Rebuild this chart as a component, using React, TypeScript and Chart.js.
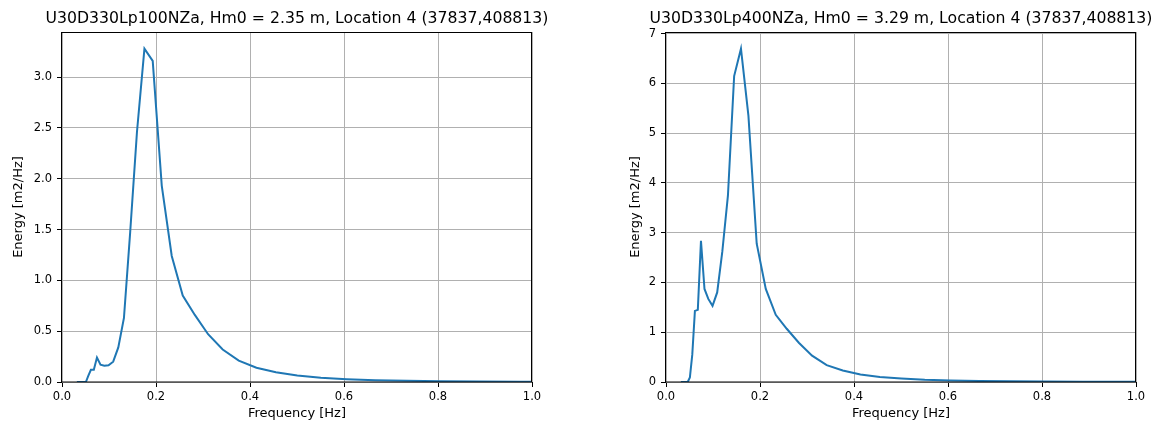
import React, { useEffect, useRef } from "react";
import { Chart, registerables } from "chart.js";

Chart.register(...registerables);

// ---- data ----
const frequencies = [
  0.0316, 0.0347, 0.0382, 0.042, 0.0462, 0.0508, 0.0559, 0.0615, 0.0677, 0.0744,
  0.0819, 0.09, 0.099, 0.1089, 0.1198, 0.1318, 0.145, 0.1595, 0.1754, 0.193,
  0.2123, 0.2335, 0.2569, 0.2826, 0.3108, 0.3419, 0.3761, 0.4137, 0.4551, 0.5006,
  0.5506, 0.6057, 0.6663, 0.7329, 0.8062, 0.8868, 0.9755, 1.0731,
];

const energyLp100 = [
  0, 0, 0, 0, 0, 0, 0.06, 0.12, 0.12, 0.24,
  0.17, 0.16, 0.165, 0.2, 0.34, 0.63, 1.47, 2.46, 3.28, 3.16,
  1.93, 1.24, 0.85, 0.66, 0.47, 0.32, 0.21, 0.14, 0.095, 0.065,
  0.042, 0.028, 0.018, 0.012, 0.008, 0.005, 0.003, 0.002,
];

const energyLp400 = [
  0, 0, 0, 0, 0, 0.09, 0.55, 1.43, 1.45, 2.84,
  1.87, 1.67, 1.53, 1.8, 2.62, 3.75, 6.15, 6.7, 5.35, 2.78,
  1.87, 1.35, 1.07, 0.79, 0.53, 0.34, 0.23, 0.15, 0.1, 0.07,
  0.045, 0.03, 0.02, 0.013, 0.008, 0.005, 0.003, 0.002,
];

const xTicks = [0, 0.2, 0.4, 0.6, 0.8, 1.0];
const yTicksLp100 = [0, 0.5, 1.0, 1.5, 2.0, 2.5, 3.0];
const yTicksLp400 = [0, 1, 2, 3, 4, 5, 6, 7];

const titleLp100 = "U30D330Lp100NZa, Hm0 = 2.35 m, Location 4 (37837,408813)";
const titleLp400 = "U30D330Lp400NZa, Hm0 = 3.29 m, Location 4 (37837,408813)";
const xLabel = "Frequency [Hz]";
const yLabel = "Energy [m2/Hz]";

const FONT = "'DejaVu Sans', 'Liberation Sans', sans-serif";

type PanelProps = {
  left: number;
  width: number;
  padLeft: number;
  padRight: number;
  yMax: number;
  yTicks: number[];
  yDecimals: number;
  yTitlePad: number;
  values: number[];
  title: string;
};

const framePlugin = {
  id: "frameAndTitle",
  afterDraw(chart: any, _args: any, opts: any) {
    const { ctx, chartArea } = chart;
    const { left, top, right, bottom } = chartArea;
    ctx.save();
    ctx.strokeStyle = "#000";
    ctx.lineWidth = 1;
    ctx.strokeRect(Math.round(left) - 0.5, Math.round(top) + 0.5, Math.round(right - left), Math.round(bottom - top) - 0.5);
    ctx.fillStyle = "#000";
    ctx.font = `15.7px ${FONT}`;
    ctx.textAlign = "center";
    ctx.textBaseline = "alphabetic";
    ctx.fillText(opts.text, (left + right) / 2, 23);
    ctx.restore();
  },
};

function Panel(p: PanelProps) {
  const ref = useRef<HTMLCanvasElement>(null);
  useEffect(() => {
    if (!ref.current) return;
    const chart = new Chart(ref.current, {
      type: "line",
      data: {
        datasets: [
          {
            data: frequencies.map((f, i) => ({ x: f, y: p.values[i] })),
            borderColor: "#1f77b4",
            borderWidth: 2,
            pointRadius: 0,
            fill: false,
            tension: 0,
            clip: { left: 2, top: 2, right: 0, bottom: 0 } as any,
          },
        ],
      },
      options: {
        animation: false,
        responsive: false,
        events: [],
        layout: { padding: { left: p.padLeft, right: p.padRight, top: 32, bottom: 0 } },
        plugins: {
          legend: { display: false },
          tooltip: { enabled: false },
          title: { display: false },
          frameAndTitle: { text: p.title },
        } as any,
        scales: {
          x: {
            type: "linear",
            min: 0,
            max: 1,
            afterBuildTicks: (s: any) => {
              s.ticks = xTicks.map((v) => ({ value: v }));
            },
            afterFit: (s: any) => {
              s.height = 46;
            },
            ticks: {
              callback: (v: any) => Number(v).toFixed(1),
              color: "#000",
              font: { family: FONT, size: 11.5 },
              padding: 3,
              maxRotation: 0,
              autoSkip: false,
            },
            grid: { color: "#b0b0b0", lineWidth: 1, tickLength: 5, tickColor: "#000" },
            border: { display: false },
            title: {
              display: true,
              text: xLabel,
              color: "#000",
              font: { family: FONT, size: 13 },
              padding: { top: 0, bottom: 7 },
            },
          },
          y: {
            type: "linear",
            min: 0,
            max: p.yMax,
            afterBuildTicks: (s: any) => {
              s.ticks = p.yTicks.map((v) => ({ value: v }));
            },
            afterFit: (s: any) => {
              s.width = 62;
            },
            ticks: {
              callback: (v: any) => Number(v).toFixed(p.yDecimals),
              color: "#000",
              font: { family: FONT, size: 11.5 },
              padding: 5,
              autoSkip: false,
            },
            grid: { color: "#b0b0b0", lineWidth: 1, tickLength: 5, tickColor: "#000" },
            border: { display: false },
            title: {
              display: true,
              text: yLabel,
              color: "#000",
              font: { family: FONT, size: 13 },
              padding: { top: p.yTitlePad, bottom: 0 },
            },
          },
        },
      },
      plugins: [framePlugin],
    } as any);
    return () => chart.destroy();
  }, []);
  return (
    <canvas
      ref={ref}
      width={p.width}
      height={428}
      style={{ position: "absolute", left: p.left, top: 0, width: p.width, height: 428, display: "block" }}
    />
  );
}

export default function App() {
  return (
    <div style={{ position: "fixed", left: 0, top: 0, width: 1161, height: 428, background: "#fff" }}>
      <Panel
        left={0}
        width={580}
        padLeft={0}
        padRight={48}
        yMax={3.444}
        yTicks={yTicksLp100}
        yDecimals={1}
        yTitlePad={11}
        values={energyLp100}
        title={titleLp100}
      />
      <Panel
        left={580}
        width={581}
        padLeft={24}
        padRight={25}
        yMax={7.035}
        yTicks={yTicksLp400}
        yDecimals={0}
        yTitlePad={24}
        values={energyLp400}
        title={titleLp400}
      />
    </div>
  );
}
